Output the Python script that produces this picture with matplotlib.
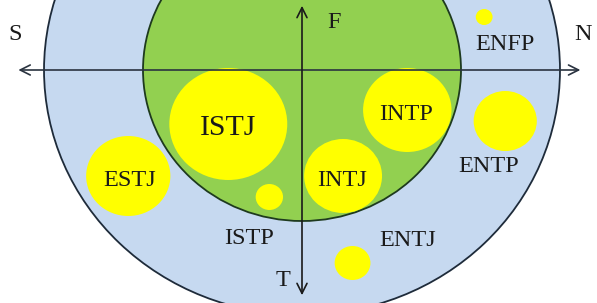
import matplotlib
matplotlib.use("Agg")
import matplotlib.pyplot as plt
from matplotlib.patches import Circle

# MBTI types: centre (S-N axis, F-T axis) and bubble radius
types = ["ISTJ", "INTP", "INTJ", "ESTJ", "ENTP", "ISTP", "ENTJ", "ENFP"]
bx = [-70, 100, 39, -165, 193, -31, 48, 173]
by = [-54, -40, -106, -106, -51, -127, -193, 53]
br = [56, 42, 37, 40, 30, 13, 17, 8]
# label positions and sizes for each type
lx = [-70, 99, 38, -164, 177, -50, 100, 193]
ly = [-58, -44, -110, -110, -96, -168, -170, 26]
lsize = [21.5, 17.5, 17.5, 17.5, 17.5, 17.5, 17.5, 17.5]

outer_r = 245
inner_r = 151
axis_labels = ["S", "N", "F", "T"]
axis_lx = [-272, 267, 30, -18]
axis_ly = [35, 35, 48, -210]

fig = plt.figure(figsize=(5.97, 3.03), dpi=100)
ax = fig.add_axes([0, 0, 1, 1])
ax.set_xlim(-302 / 1.053, 295 / 1.053)
ax.set_ylim(-233, 70)
ax.set_aspect("auto")
ax.axis("off")

ax.add_patch(Circle((0, 0), outer_r, facecolor="#c6d9f0", edgecolor="#1e2b3a", lw=1.3, zorder=1))
ax.add_patch(Circle((0, 0), inner_r, facecolor="#92d050", edgecolor="#1e3a1e", lw=1.3, zorder=2))

for x, y, r in zip(bx, by, br):
    ax.add_patch(Circle((x, y), r, facecolor="#ffff00", edgecolor="none", zorder=3))

fam = ["Liberation Serif", "DejaVu Serif"]
for t, x, y, s in zip(types, lx, ly, lsize):
    ax.text(x, y, t, ha="center", va="center", zorder=5, family=fam, fontsize=s, color="#1a1a1a")

ax.annotate("", xy=(-272, 0), xytext=(267, 0),
            arrowprops=dict(arrowstyle="<->", lw=1.2, color="#2a3340", mutation_scale=18), zorder=4)
ax.annotate("", xy=(0, 67), xytext=(0, -228),
            arrowprops=dict(arrowstyle="<->", lw=1.2, color="#1a1a1a", mutation_scale=18), zorder=4)

for t, x, y in zip(axis_labels, axis_lx, axis_ly):
    ax.text(x, y, t, ha="center", va="center", zorder=5, family=fam, fontsize=17.5, color="#1a1a1a")

fig.savefig("out.png", dpi=100)
